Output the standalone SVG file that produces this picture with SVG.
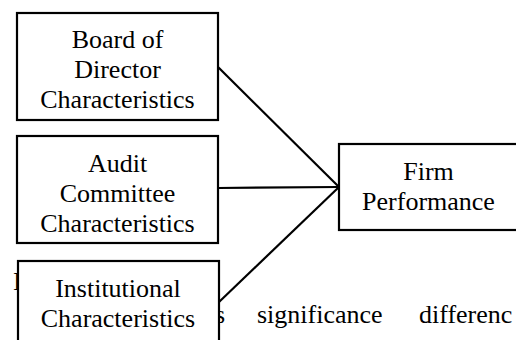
<svg xmlns="http://www.w3.org/2000/svg" width="516" height="340" viewBox="0 0 516 340">
<style>
text{font-family:'Liberation Serif','DejaVu Serif',serif;font-size:26px;fill:#000}
.box{fill:#fff;stroke:#000;stroke-width:2.2}
.t{text-anchor:middle}
.c{stroke:#000;stroke-width:2.2;fill:none}
</style>
<rect width="516" height="340" fill="#fff"/>
<g id="background-text">
<text x="13" y="290">I</text>
<text x="215" y="323">s</text>
<text x="257" y="323">significance</text>
<text x="419" y="323">differenc</text>
</g>
<g id="connectors">
<line class="c" x1="218" y1="67" x2="339" y2="187"/>
<line class="c" x1="218" y1="188" x2="339" y2="187"/>
<line class="c" x1="219" y1="302" x2="339" y2="187"/>
</g>
<g id="board">
<rect class="box" x="17" y="13" width="201" height="107"/>
<text class="t" x="117.5" y="48">Board of</text>
<text class="t" x="117.5" y="78">Director</text>
<text class="t" x="117.5" y="108">Characteristics</text>
</g>
<g id="audit">
<rect class="box" x="17" y="136" width="201" height="107"/>
<text class="t" x="117.5" y="172">Audit</text>
<text class="t" x="117.5" y="202">Committee</text>
<text class="t" x="117.5" y="232">Characteristics</text>
</g>
<g id="institutional">
<rect class="box" x="18" y="261" width="201" height="107"/>
<text class="t" x="118" y="297">Institutional</text>
<text class="t" x="118" y="327">Characteristics</text>
</g>
<g id="firm">
<rect class="box" x="339" y="144" width="181" height="86"/>
<text class="t" x="428.5" y="180">Firm</text>
<text class="t" x="428.5" y="210">Performance</text>
</g>
</svg>
